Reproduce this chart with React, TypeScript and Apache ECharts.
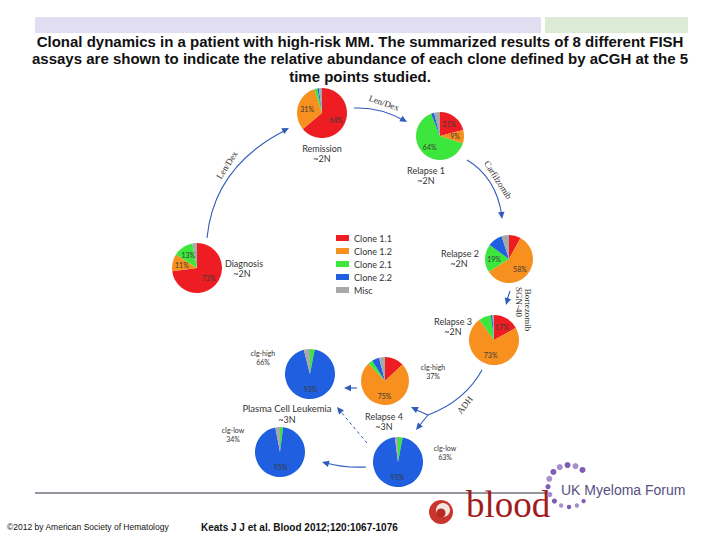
import React, { useEffect, useRef } from "react";
import * as echarts from "echarts";

// ---- data (percent of cells per clone) ----
const clones = ["Clone 1.1", "Clone 1.2", "Clone 2.1", "Clone 2.2", "Misc"];
const diagnosis = [73, 11, 13, 0, 3];
const remission = [64, 31, 2, 1, 2];
const relapse1 = [21, 9, 64, 2, 4];
const relapse2 = [8, 58, 19, 10, 5];
const relapse3 = [17, 73, 8, 1, 1];
const relapse4 = [13, 75, 3, 5, 4];
const pclHigh = [0, 0, 3, 93, 4];
const pclLow = [0, 0, 2, 95, 3];
const relapse4Low = [0, 0, 3, 95, 2];

const titleLines = [
  "Clonal dynamics in a patient with high-risk MM. The summarized results of 8 different FISH",
  "assays are shown to indicate the relative abundance of each clone defined by aCGH at the 5",
  "time points studied.",
];

// ---- styling / layout ----
const cloneColors = ["#ee1d23", "#f7901e", "#3de63d", "#1f5fe0", "#a8a8a8"];
const ARROW = "#2f5cb8";
const LBL = "Lato, 'Open Sans', sans-serif";
const SERIF = "'Liberation Serif', 'DejaVu Serif', serif";

const pieLayout = [
  { id: "diagnosis", values: diagnosis, center: [197, 268], r: 25, min: 9 },
  { id: "remission", values: remission, center: [322, 113], r: 25, min: 9 },
  { id: "relapse1", values: relapse1, center: [440, 136], r: 24, min: 9 },
  { id: "relapse2", values: relapse2, center: [509, 259], r: 24, min: 15 },
  { id: "relapse3", values: relapse3, center: [494, 340], r: 25, min: 15 },
  { id: "relapse4", values: relapse4, center: [385, 381], r: 24, min: 15 },
  { id: "pclHigh", values: pclHigh, center: [310, 374], r: 25, min: 15 },
  { id: "pclLow", values: pclLow, center: [280, 452], r: 25, min: 15 },
  { id: "relapse4Low", values: relapse4Low, center: [398, 462], r: 25, min: 15 },
];

function head(tx: number, ty: number, fx: number, fy: number, len = 7, w = 3.2) {
  const dx = tx - fx, dy = ty - fy;
  const L = Math.hypot(dx, dy);
  const ux = dx / L, uy = dy / L;
  const bx = tx - ux * len, by = ty - uy * len;
  return {
    type: "polygon",
    shape: { points: [[tx, ty], [bx - uy * w, by + ux * w], [bx + uy * w, by - ux * w]] },
    style: { fill: ARROW },
    silent: true,
  };
}

function curve(x1: number, y1: number, cx: number, cy: number, x2: number, y2: number, dash?: number[]) {
  return {
    type: "bezierCurve",
    shape: { x1, y1, x2, y2, cpx1: cx, cpy1: cy },
    style: { stroke: ARROW, lineWidth: 1.1, fill: "none", lineDash: dash },
    silent: true,
  };
}

function txt(x: number, y: number, text: string, font: string, opts: any = {}) {
  return {
    type: "text",
    x,
    y,
    rotation: opts.rotation || 0,
    silent: true,
    style: {
      text,
      font,
      fill: opts.fill || "#333",
      textAlign: opts.align || "center",
      textVerticalAlign: opts.valign || "middle",
      align: opts.align || "center",
      verticalAlign: opts.valign || "middle",
      lineHeight: opts.lineHeight,
    },
  };
}

export default function App() {
  const ref = useRef<HTMLDivElement>(null);
  useEffect(() => {
    if (!ref.current) return;
    const chart = echarts.init(ref.current, null, { renderer: "svg" });

    const series = pieLayout.map((p) => ({
      type: "pie",
      name: p.id,
      center: p.center,
      radius: p.r,
      startAngle: 90,
      clockwise: true,
      silent: true,
      avoidLabelOverlap: false,
      itemStyle: { borderWidth: 0 },
      label: {
        show: true,
        position: "inside",
        fontSize: 7,
        fontFamily: LBL,
        color: "#3a3a3a",
        formatter: (prm: any) => (prm.value >= p.min ? prm.value + "%" : ""),
      },
      labelLine: { show: false },
      emphasis: { disabled: true },
      data: p.values.map((v, i) => ({
        name: clones[i],
        value: v,
        itemStyle: { color: cloneColors[i] },
      })),
    }));

    const dots: any[] = [];
    const ringAngles = [50, 72, 94, 116, 138, 160, 182, 204, 226, 248, 270, 292, 314];
    ringAngles.forEach((a, i) => {
      const rad = (a * Math.PI) / 180;
      const size = i < 6 ? 3 : i < 9 ? 2.6 : 2.2;
      dots.push({
        type: "circle",
        shape: { cx: 569 + 21 * Math.cos(rad), cy: 486 - 21 * Math.sin(rad), r: size },
        style: { fill: i % 2 === 0 ? "#7f5db5" : "#a58fd0" },
        silent: true,
      });
    });

    const graphic: any[] = [
      // header bars
      { type: "rect", shape: { x: 35, y: 17, width: 506, height: 16 }, style: { fill: "#e0def0" }, silent: true },
      { type: "rect", shape: { x: 545, y: 17, width: 143, height: 16 }, style: { fill: "#dcebd5" }, silent: true },
      // title
      ...titleLines.map((l, i) => txt(360, 41 + i * 17.5, l, "bold 15px 'Liberation Sans', Arial, sans-serif", { fill: "#111" })),
      // timepoint labels
      txt(322, 148, "Remission", `9px ${LBL}`),
      txt(322, 158, "~2N", `9px ${LBL}`),
      txt(426, 170, "Relapse 1", `9px ${LBL}`),
      txt(426, 180, "~2N", `9px ${LBL}`),
      txt(244, 263, "Diagnosis", `9px ${LBL}`),
      txt(242, 273, "~2N", `9px ${LBL}`),
      txt(460, 253, "Relapse 2", `9px ${LBL}`),
      txt(459, 263, "~2N", `9px ${LBL}`),
      txt(453, 321, "Relapse 3", `9px ${LBL}`),
      txt(453, 331, "~2N", `9px ${LBL}`),
      txt(384, 416, "Relapse 4", `9px ${LBL}`),
      txt(384, 426, "~3N", `9px ${LBL}`),
      txt(287, 408, "Plasma Cell Leukemia", `9.5px ${LBL}`),
      txt(287, 419, "~3N", `9px ${LBL}`),
      txt(263, 353, "cIg-high", `7px ${LBL}`),
      txt(263, 362, "66%", `7px ${LBL}`),
      txt(233, 430, "cIg-low", `7px ${LBL}`),
      txt(233, 439, "34%", `7px ${LBL}`),
      txt(433, 367, "cIg-high", `7px ${LBL}`),
      txt(433, 376, "37%", `7px ${LBL}`),
      txt(445, 448, "cIg-low", `7px ${LBL}`),
      txt(445, 457, "63%", `7px ${LBL}`),
      // arrows: Diagnosis -> Remission
      curve(207, 238, 214, 166, 286, 130),
      head(289, 128, 214, 166),
      txt(227, 165, "Len/Dex", `9px ${SERIF}`, { rotation: 1.0 }),
      // Remission -> Relapse 1
      curve(354, 108, 381, 107, 405, 121),
      head(407, 122, 381, 107),
      txt(384, 103, "Len/Dex", `9px ${SERIF}`, { rotation: -0.33 }),
      // Relapse 1 -> Relapse 2
      curve(467, 160, 496, 177, 502, 216),
      head(502, 219, 499, 190),
      txt(498, 180, "Carfilzomib", `9px ${SERIF}`, { rotation: -1.0 }),
      // Relapse 2 -> Relapse 3
      { type: "line", shape: { x1: 510, y1: 291, x2: 507, y2: 300 }, style: { stroke: ARROW, lineWidth: 1.1 }, silent: true },
      head(506, 305, 510, 291),
      txt(528, 310, "Bortezomib", `9px ${SERIF}`, { rotation: -Math.PI / 2 }),
      txt(519, 302, "SGN-40", `9px ${SERIF}`, { rotation: -Math.PI / 2 }),
      // Relapse 3 -> ADH split
      curve(482, 370, 465, 401, 428, 415),
      { type: "line", shape: { x1: 428, y1: 415, x2: 414, y2: 409 }, style: { stroke: ARROW, lineWidth: 1.1 }, silent: true },
      head(411, 407, 428, 415),
      { type: "line", shape: { x1: 428, y1: 415, x2: 419, y2: 426 }, style: { stroke: ARROW, lineWidth: 1.1 }, silent: true },
      head(416, 430, 428, 415),
      txt(465, 405, "ADH", `9px ${SERIF}`, { rotation: 0.9 }),
      // Relapse 4 -> PCL high
      { type: "line", shape: { x1: 357, y1: 388, x2: 348, y2: 388 }, style: { stroke: ARROW, lineWidth: 1.1 }, silent: true },
      head(344, 388, 357, 388),
      // dashed cIg-low -> PCL
      { type: "line", shape: { x1: 367, y1: 443, x2: 341, y2: 412 }, style: { stroke: ARROW, lineWidth: 1, lineDash: [3, 3] }, silent: true },
      head(337, 407, 367, 443),
      // cIg-low -> PCL low
      curve(366, 467, 344, 468, 326, 463),
      head(322, 462, 344, 468),
      // footer line
      { type: "line", shape: { x1: 35, y1: 493, x2: 545, y2: 493 }, style: { stroke: "#2b2b3b", lineWidth: 1 }, silent: true },
      txt(7, 527, "©2012 by American Society of Hematology", "8.5px 'Liberation Sans', Arial, sans-serif", { align: "left", fill: "#111" }),
      txt(201, 527, "Keats J J et al. Blood 2012;120:1067-1076", "bold 10px 'Liberation Sans', Arial, sans-serif", { align: "left", fill: "#111" }),
      // blood logo
      { type: "circle", shape: { cx: 441, cy: 512, r: 12 }, style: { fill: "#c8362e" }, silent: true },
      { type: "circle", shape: { cx: 443, cy: 510, r: 7 }, style: { fill: "#f4e4e0" }, silent: true },
      { type: "circle", shape: { cx: 441, cy: 513, r: 4.5 }, style: { fill: "#b52a24" }, silent: true },
      txt(466, 523, "blood", `37px ${SERIF}`, { align: "left", valign: "bottom", fill: "#a01c1e" }),
      // UK Myeloma Forum logo
      ...dots,
      txt(561, 490, "UK Myeloma Forum", "14px 'Liberation Sans', Arial, sans-serif", { align: "left", fill: "#55507f" }),
    ];

    chart.setOption({
      animation: false,
      backgroundColor: "#ffffff",
      legend: {
        orient: "vertical",
        left: 336,
        top: 233,
        padding: 0,
        itemWidth: 13,
        itemHeight: 6,
        itemGap: 3,
        icon: "rect",
        selectedMode: false,
        textStyle: { fontSize: 9, fontFamily: LBL, color: "#333", lineHeight: 10 },
        data: clones,
      },
      series,
      graphic,
    });
    return () => chart.dispose();
  }, []);
  return <div ref={ref} style={{ position: "fixed", left: 0, top: 0, width: 720, height: 540 }} />;
}
